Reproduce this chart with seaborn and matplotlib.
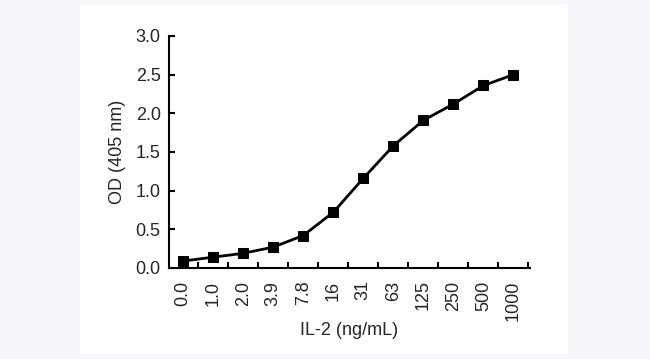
import numpy as np
import pandas as pd
import matplotlib
matplotlib.use("Agg")
import matplotlib.pyplot as plt
from matplotlib.patches import Rectangle
import seaborn as sns

categories = ["0.0", "1.0", "2.0", "3.9", "7.8", "16", "31", "63", "125", "250", "500", "1000"]
od_values = [0.09, 0.14, 0.19, 0.27, 0.42, 0.72, 1.16, 1.58, 1.91, 2.12, 2.36, 2.50]
y_ticks = [0.0, 0.5, 1.0, 1.5, 2.0, 2.5, 3.0]
y_tick_labels = ["0.0", "0.5", "1.0", "1.5", "2.0", "2.5", "3.0"]

sns.set_style("ticks")
plt.rcParams["font.family"] = ["Liberation Sans", "DejaVu Sans"]

fig = plt.figure(figsize=(6.5, 3.59), dpi=100)
fig.patch.set_facecolor("#f7f8fc")
fig.patches.append(Rectangle((80 / 650, 1 - 353 / 359), (568 - 80) / 650, (353 - 5) / 359,
                             transform=fig.transFigure, facecolor="white", edgecolor="none", zorder=-10))

ax = fig.add_axes([169 / 650, 1 - 268 / 359, (530 - 169) / 650, (268 - 36) / 359])
ax.set_facecolor("none")
ax.set_zorder(5)

df = pd.DataFrame({"pos": np.arange(len(categories)), "od": od_values})
sns.lineplot(data=df, x="pos", y="od", ax=ax, color="black", linewidth=2,
             marker="s", markersize=7.5, markeredgecolor="black", markerfacecolor="black")

fs = 13
ax.set_xlim(-0.47, 11.55)
ax.set_ylim(0, 3.0)
ax.set_yticks(y_ticks)
ax.set_yticklabels(y_tick_labels, fontsize=fs)
ax.set_xticks(np.arange(len(categories)))
ax.set_xticklabels(categories, rotation=90, fontsize=fs)
ax.set_xticks(np.arange(len(categories)) + 0.5, minor=True)
ax.tick_params(axis="x", which="major", length=0, pad=9)
ax.tick_params(axis="x", which="minor", direction="in", length=4, width=1.5, color="black")
ax.tick_params(axis="y", direction="in", length=4, width=1.5, color="black", pad=6)

for s in ["top", "right"]:
    ax.spines[s].set_visible(False)
for s in ["left", "bottom"]:
    ax.spines[s].set_linewidth(1.5)
    ax.spines[s].set_color("black")

ax.set_xlabel("IL-2 (ng/mL)", fontsize=fs, labelpad=1)
ax.set_ylabel("OD (405 nm)", fontsize=fs, labelpad=7)

fig.savefig("out.png", dpi=100, facecolor=fig.get_facecolor())
